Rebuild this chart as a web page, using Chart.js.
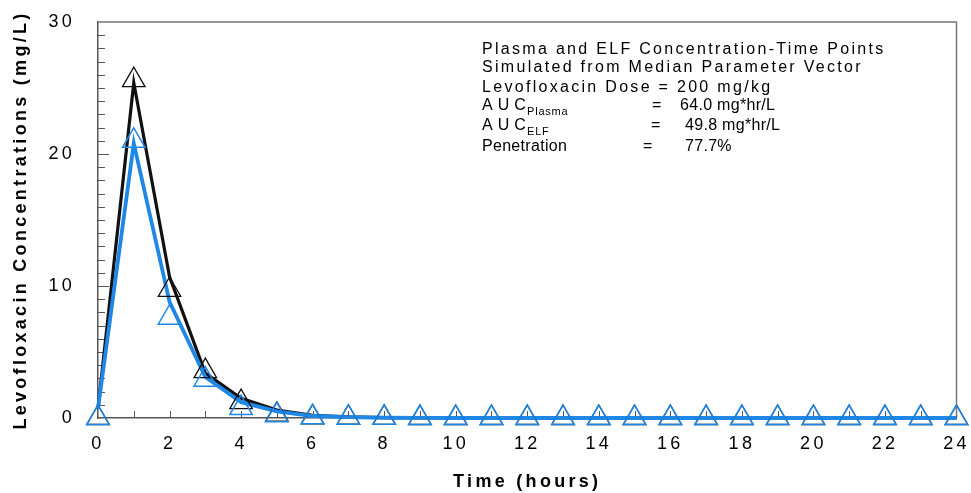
<!DOCTYPE html>
<html>
<head>
<meta charset="utf-8">
<script src="https://cdn.jsdelivr.net/npm/chart.js@4/dist/chart.umd.min.js"></script>
<style>
  body { margin: 0; background: #fff; }
  canvas { display: block; }
</style>
</head>
<body>
<canvas id="myChart" width="971" height="493"></canvas>
<script>
// time points (hours)
const hours = [0, 1, 2, 3, 4, 5, 6, 7, 8, 9, 10, 11, 12, 13, 14, 15, 16, 17, 18, 19, 20, 21, 22, 23, 24]
// simulated curves (lines)
const plasmaLine = [0.7, 25.4, 10.7, 3.4, 1.5, 0.6, 0.2, 0.08, 0.03, 0.01, 0, 0, 0, 0, 0, 0, 0, 0, 0, 0, 0, 0, 0, 0, 0]
const elfLine = [0.7, 20.8, 8.8, 3.1, 1.2, 0.5, 0.15, 0.06, 0.02, 0.01, 0, 0, 0, 0, 0, 0, 0, 0, 0, 0, 0, 0, 0, 0, 0]
// simulated points (triangles)
const plasmaPoints = [0, 25.6, 9.7, 3.55, 1.2, 0.25, 0.05, 0.02, 0.01, 0, 0, 0, 0, 0, 0, 0, 0, 0, 0, 0, 0, 0, 0, 0, 0]
const elfPoints = [0, 21.0, 7.6, 2.9, 0.75, 0.2, 0.05, 0.02, 0.01, 0, 0, 0, 0, 0, 0, 0, 0, 0, 0, 0, 0, 0, 0, 0, 0]
const xTickLabels = ['0', '2', '4', '6', '8', '10', '12', '14', '16', '18', '20', '22', '24']
const yTickLabels = ['0', '10', '20', '30']

const BLUE = '#1f87e6'
const BLACK = '#111'
const FONT = "'Liberation Sans', Arial, sans-serif"

const toXY = ys => hours.map((h, i) => ({x: h, y: ys[i]}))

const noPad = s => {
  s.paddingLeft = 0
  s.paddingRight = 0
  s.paddingTop = 0
  s.paddingBottom = 0
}

const framePlugin = {
  id: 'frame',
  beforeDraw(chart) {
    chart.ctx.letterSpacing = '3.3px'
  },
  beforeDatasetsDraw(chart) {
    const {ctx, chartArea: a, scales: {x, y}} = chart
    ctx.save()
    ctx.letterSpacing = '0px'
    // top and right frame
    ctx.strokeStyle = '#777'
    ctx.lineWidth = 1.5
    ctx.beginPath()
    ctx.moveTo(a.left, a.top)
    ctx.lineTo(a.right, a.top)
    ctx.lineTo(a.right, a.bottom)
    ctx.stroke()
    // inward ticks
    ctx.strokeStyle = '#555'
    ctx.lineWidth = 1
    ctx.beginPath()
    for (let v = 1; v < 30; v++) {
      const py = Math.round(y.getPixelForValue(v)) + 0.5
      const len = v % 10 === 0 ? 11 : 7
      ctx.moveTo(a.left, py)
      ctx.lineTo(a.left + len, py)
    }
    for (let h = 1; h < 24; h++) {
      const px = Math.round(x.getPixelForValue(h)) + 0.5
      ctx.moveTo(px, a.bottom)
      ctx.lineTo(px, a.bottom - 7)
    }
    ctx.stroke()
    ctx.restore()
  },
  afterDraw(chart) {
    const ctx = chart.ctx
    ctx.save()
    ctx.fillStyle = '#000'
    ctx.textBaseline = 'alphabetic'
    ctx.textAlign = 'left'
    ctx.font = '16px ' + FONT
    ctx.letterSpacing = '2.3px'
    ctx.fillText('Plasma and ELF Concentration-Time Points', 482, 54)
    ctx.fillText('Simulated from Median Parameter Vector', 482, 72)
    ctx.fillText('Levofloxacin Dose = 200 mg/kg', 482, 92)
    ctx.letterSpacing = '0.3px'
    ctx.fillText('A U C', 482, 110)
    ctx.fillText('=', 652, 110)
    ctx.fillText('64.0 mg*hr/L', 680, 110)
    ctx.fillText('A U C', 482, 130)
    ctx.fillText('=', 651, 130)
    ctx.fillText('49.8 mg*hr/L', 685, 130)
    ctx.fillText('Penetration', 482, 151)
    ctx.fillText('=', 643, 151)
    ctx.fillText('77.7%', 685, 151)
    ctx.font = '11px ' + FONT
    ctx.letterSpacing = '0.8px'
    ctx.fillText('Plasma', 527, 115)
    ctx.fillText('ELF', 527, 135)
    ctx.restore()
  },
}

new Chart('myChart', {
  type: 'line',
  data: {
    datasets: [
      {data: toXY(plasmaLine), borderColor: BLACK, borderWidth: 3.2, pointRadius: 0, order: 4, clip: false},
      {data: toXY(elfLine), borderColor: BLUE, borderWidth: 3.8, pointRadius: 0, order: 3, clip: false},
      {
        data: toXY(plasmaPoints), showLine: false, pointStyle: 'triangle', pointRadius: 13,
        pointBorderColor: BLACK, pointBorderWidth: 1.3, pointBackgroundColor: 'rgba(0,0,0,0)', order: 2, clip: false,
      },
      {
        data: toXY(elfPoints), showLine: false, pointStyle: 'triangle', pointRadius: 13,
        pointBorderColor: BLUE, pointBorderWidth: 1.5, pointBackgroundColor: 'rgba(0,0,0,0)', order: 1, clip: false,
      },
    ],
  },
  options: {
    responsive: false,
    animation: false,
    events: [],
    layout: {padding: {top: 22, right: 11, left: 0, bottom: 0}},
    plugins: {legend: {display: false}, tooltip: {enabled: false}},
    scales: {
      x: {
        type: 'linear', min: 0, max: 24,
        afterFit: s => { s.height = 75; noPad(s) },
        grid: {display: true, drawOnChartArea: false, drawTicks: false},
        border: {display: true, color: '#555', width: 1.5},
        ticks: {
          stepSize: 2, autoSkip: false, maxRotation: 0, padding: 15, color: '#000',
          font: {family: FONT, size: 18},
          callback: (v, i) => xTickLabels[i],
        },
        title: {
          display: true, text: 'Time (hours)', color: '#000', padding: {top: 0, bottom: 0},
          font: {family: FONT, size: 18, weight: 'bold'},
        },
      },
      y: {
        min: 0, max: 30,
        afterFit: s => { s.width = 98; noPad(s) },
        grid: {display: true, drawOnChartArea: false, drawTicks: false},
        border: {display: true, color: '#555', width: 1.5},
        ticks: {
          stepSize: 10, padding: 23, color: '#000',
          font: {family: FONT, size: 18},
          callback: (v, i) => yTickLabels[i],
        },
        title: {
          display: true, text: 'Levofloxacin Concentrations (mg/L)', color: '#000', padding: {top: 10, bottom: 0},
          font: {family: FONT, size: 18, weight: 'bold'},
        },
      },
    },
  },
  plugins: [framePlugin],
})
</script>
</body>
</html>
